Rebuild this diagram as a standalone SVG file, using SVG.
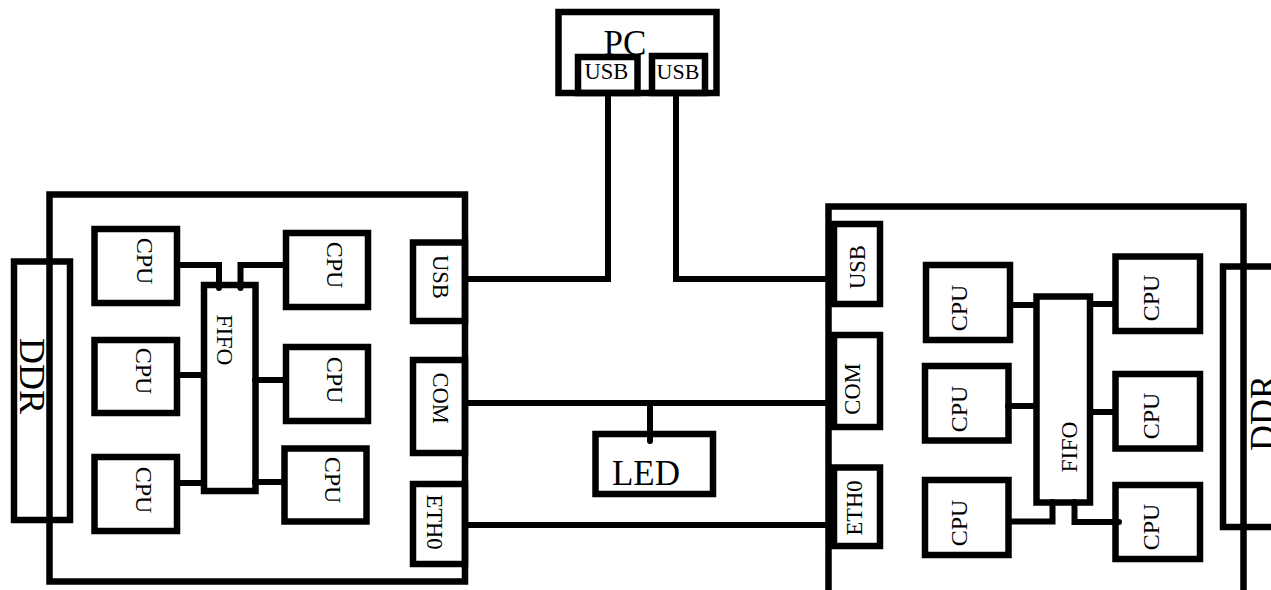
<svg xmlns="http://www.w3.org/2000/svg" width="1271" height="590" viewBox="0 0 1271 590">
<style>
.b{fill:none;stroke:#000;stroke-width:6.5}
.c{fill:none;stroke:#000;stroke-width:6;stroke-linecap:round;stroke-linejoin:miter}
text{font-family:"Liberation Serif","Times New Roman",serif;fill:#000}
.t{font-size:24px;text-anchor:middle}
.f{font-size:23.5px;text-anchor:middle}
.p{font-size:22.5px;text-anchor:middle}
</style>
<rect width="1271" height="590" fill="#fff"/>
<g id="connectors">
<path class="c" d="M465,279 H608 V96"/>
<path class="c" d="M828,279 H676 V96"/>
<path class="c" d="M465,403 H828"/>
<path class="c" d="M650,403 V441"/>
<path class="c" d="M465,525 H828"/>
<path class="c" d="M177,265 H219 V288"/>
<path class="c" d="M286,265 H240.5 V288"/>
<path class="c" d="M177,375 H204"/>
<path class="c" d="M255,380 H286"/>
<path class="c" d="M177,483 H204"/>
<path class="c" d="M255,482 H284"/>
<path class="c" d="M1010,305 H1036"/>
<path class="c" d="M1090,304 H1115"/>
<path class="c" d="M1008,406 H1036"/>
<path class="c" d="M1090,412 H1115"/>
<path class="c" d="M1011,521.5 H1052.5 V502"/>
<path class="c" d="M1074.5,502 V522 H1119"/>
</g>
<g id="pc">
<rect class="b" x="558.5" y="12" width="158" height="81"/>
<text x="625" y="55" style="font-size:35px;text-anchor:middle">PC</text>
</g>
<g id="pc-usb1">
<rect class="b" x="578" y="57" width="59.5" height="36"/>
<text x="606.5" y="79" style="font-size:22.5px;text-anchor:middle">USB</text>
</g>
<g id="pc-usb2">
<rect class="b" x="652" y="56" width="53" height="37"/>
<text x="678" y="79" style="font-size:22px;text-anchor:middle">USB</text>
</g>
<g id="led">
<rect class="b" x="595.5" y="434" width="117.5" height="60"/>
<text x="646" y="485" style="font-size:35px;text-anchor:middle">LED</text>
</g>
<g id="left-board">
<rect class="b" x="49.5" y="194.5" width="415.5" height="387"/>
</g>
<g id="left-ddr">
<rect class="b" x="14" y="261.5" width="56" height="258.5"/>
<text transform="translate(20,376) rotate(90)" style="font-size:36px;text-anchor:middle">DDR</text>
</g>
<g id="left-cpu1">
<rect class="b" x="94.5" y="229" width="82.5" height="74"/>
<text class="t" transform="translate(137,261) rotate(90)">CPU</text>
</g>
<g id="left-cpu2">
<rect class="b" x="94.5" y="340" width="82.5" height="73"/>
<text class="t" transform="translate(136,371) rotate(90)">CPU</text>
</g>
<g id="left-cpu3">
<rect class="b" x="94.5" y="457" width="82.5" height="74"/>
<text class="t" transform="translate(136,490) rotate(90)">CPU</text>
</g>
<g id="left-cpu4">
<rect class="b" x="286" y="233" width="82" height="74"/>
<text class="t" transform="translate(327,265) rotate(90)">CPU</text>
</g>
<g id="left-cpu5">
<rect class="b" x="286" y="347" width="82" height="74"/>
<text class="t" transform="translate(327,380) rotate(90)">CPU</text>
</g>
<g id="left-cpu6">
<rect class="b" x="284.5" y="448.5" width="82" height="73"/>
<text class="t" transform="translate(325,480) rotate(90)">CPU</text>
</g>
<g id="left-fifo">
<rect class="b" x="204" y="285" width="51.5" height="206"/>
<text class="f" transform="translate(217,340) rotate(90)">FIFO</text>
</g>
<g id="left-usb">
<rect class="b" x="413" y="242.5" width="52" height="78.5"/>
<text class="p" transform="translate(433,277) rotate(90)">USB</text>
</g>
<g id="left-com">
<rect class="b" x="413" y="360" width="52" height="93"/>
<text class="p" transform="translate(433,398) rotate(90)">COM</text>
</g>
<g id="left-eth0">
<rect class="b" x="413" y="484" width="52" height="80"/>
<text class="p" transform="translate(427,522) rotate(90)">ETH0</text>
</g>
<g id="right-board">
<rect class="b" x="828.5" y="206.5" width="415" height="400"/>
</g>
<g id="right-ddr">
<rect class="b" x="1223" y="266.5" width="60" height="260.5"/>
<text transform="translate(1275,413) rotate(-90)" style="font-size:36px;text-anchor:middle">DDR</text>
</g>
<g id="right-usb">
<rect class="b" x="834" y="224" width="46" height="80"/>
<text class="p" transform="translate(865,267) rotate(-90)">USB</text>
</g>
<g id="right-com">
<rect class="b" x="834" y="335" width="46" height="92"/>
<text class="p" transform="translate(860,389) rotate(-90)">COM</text>
</g>
<g id="right-eth0">
<rect class="b" x="834" y="467.5" width="46" height="78.5"/>
<text class="p" transform="translate(862,508) rotate(-90)">ETH0</text>
</g>
<g id="right-cpu1">
<rect class="b" x="926" y="265" width="84" height="75"/>
<text class="t" transform="translate(967,308) rotate(-90)">CPU</text>
</g>
<g id="right-cpu2">
<rect class="b" x="925" y="366" width="83.5" height="74.5"/>
<text class="t" transform="translate(967,409) rotate(-90)">CPU</text>
</g>
<g id="right-cpu3">
<rect class="b" x="925" y="480" width="83.5" height="75"/>
<text class="t" transform="translate(967,523) rotate(-90)">CPU</text>
</g>
<g id="right-cpu4">
<rect class="b" x="1115.5" y="256.5" width="84.5" height="74.5"/>
<text class="t" transform="translate(1159,298) rotate(-90)">CPU</text>
</g>
<g id="right-cpu5">
<rect class="b" x="1115.5" y="374" width="84.5" height="74.5"/>
<text class="t" transform="translate(1159,416) rotate(-90)">CPU</text>
</g>
<g id="right-cpu6">
<rect class="b" x="1115.5" y="485" width="84.5" height="74"/>
<text class="t" transform="translate(1159,527) rotate(-90)">CPU</text>
</g>
<g id="right-fifo">
<rect class="b" x="1036.5" y="296.5" width="53.5" height="206"/>
<text class="f" transform="translate(1077,447) rotate(-90)">FIFO</text>
</g>
</svg>
